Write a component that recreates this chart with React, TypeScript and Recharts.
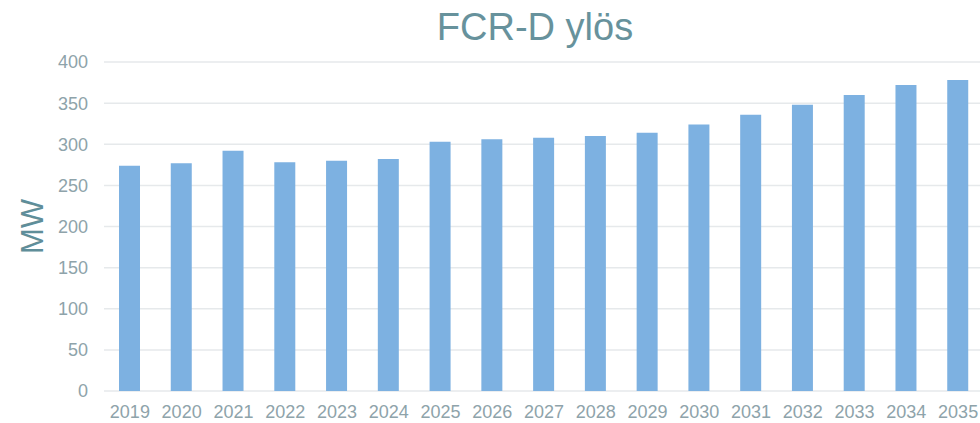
import React from 'react';
import { BarChart, Bar, XAxis, YAxis, CartesianGrid } from 'recharts';

const years = ['2019', '2020', '2021', '2022', '2023', '2024', '2025', '2026', '2027', '2028', '2029', '2030', '2031', '2032', '2033', '2034', '2035'];
const values = [274, 277, 292, 278, 280, 282, 303, 306, 308, 310, 314, 324, 336, 348, 360, 372, 378];
const yTicks = [0, 50, 100, 150, 200, 250, 300, 350, 400];
const title = 'FCR-D ylös';
const yLabel = 'MW';

const data = years.map((y, i) => ({ year: y, value: values[i] }));

const tickStyle = { fill: '#8ea3aa', fontSize: 18, fontFamily: '"Liberation Sans", Arial, sans-serif' };

export default function App() {
  return (
    <div style={{ position: 'fixed', left: 0, top: 0, width: 980, height: 423, overflow: 'hidden', background: '#fff' }}>
      <div
        style={{
          position: 'absolute',
          left: 90,
          width: 890,
          top: 8,
          textAlign: 'center',
          fontFamily: '"Liberation Sans", Arial, sans-serif',
          fontSize: 38,
          lineHeight: 1,
          color: '#67929c',
          zIndex: 1,
        }}
      >
        {title}
      </div>
      <BarChart width={1000} height={423} data={data} margin={{ top: 62, right: 16, bottom: 0, left: 0 }}>
        <CartesianGrid vertical={false} stroke="#e6e9eb" strokeWidth={1.5} />
        <XAxis
          dataKey="year"
          axisLine={false}
          tickLine={false}
          tickSize={0}
          tickMargin={14}
          height={32}
          interval={0}
          tick={tickStyle}
        />
        <YAxis
          domain={[0, 400]}
          ticks={yTicks}
          axisLine={false}
          tickLine={false}
          tickSize={0}
          tickMargin={16}
          width={104}
          tick={tickStyle}
          label={{
            value: yLabel,
            angle: -90,
            position: 'center',
            dx: -20,
            style: { fill: '#5f8e99', fontSize: 31, fontFamily: '"Liberation Sans", Arial, sans-serif' },
          }}
        />
        <Bar dataKey="value" fill="#7db1e1" barSize={21} isAnimationActive={false} />
      </BarChart>
    </div>
  );
}
